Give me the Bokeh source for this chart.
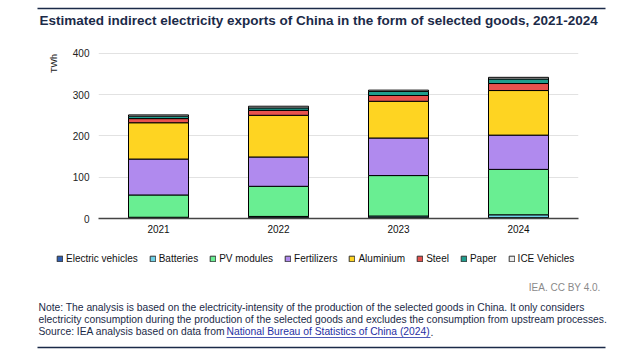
from math import pi

from bokeh.core.properties import value
from bokeh.embed import file_html
from bokeh.layouts import column, row
from bokeh.models import (ColumnDataSource, FactorRange, FixedTicker, Legend,
                          LegendItem, Range1d)
from bokeh.plotting import figure
from bokeh.resources import INLINE

# Indirect electricity exports embedded in goods, TWh
years = ["2021", "2022", "2023", "2024"]
electric_vehicles = [1, 2, 2, 2]
batteries = [2, 3, 4, 7]
pv_modules = [54, 73, 98, 110]
fertilizers = [87, 71, 91, 83]
aluminium = [88, 101, 89, 108]
steel = [10, 12, 14, 17]
paper = [6, 6, 10, 11]
ice_vehicles = [3, 4, 3, 4]

series_names = ["Electric vehicles", "Batteries", "PV modules", "Fertilizers",
                "Aluminium", "Steel", "Paper", "ICE Vehicles"]
series_values = [electric_vehicles, batteries, pv_modules, fertilizers,
                 aluminium, steel, paper, ice_vehicles]
series_colors = ["#2f5fb3", "#6fd0e6", "#69ee92", "#b08aee",
                 "#fed422", "#e8524e", "#1f9e8e", "#ececec"]
y_ticks = [0, 100, 200, 300, 400]

title_text = ("Estimated indirect electricity exports of China in the form of "
              "selected goods, 2021-2024")
note_lines = [
    "Note: The analysis is based on the electricity-intensity of the production of the "
    "selected goods in China. It only considers",
    "electricity consumption during the production of the selected goods and excludes "
    "the consumption from upstream processes.",
]
source_prefix = "Source: IEA analysis based on data from "
source_link = "National Bureau of Statistics of China (2024)"
credit = "IEA. CC BY 4.0."

FONT = "Liberation Sans"
NAVY = "#1b2a48"
LINK = "#1f2fa3"
W = 640
HEADER_H, CHART_H, FOOTER_H = 44, 196, 120
STRIP_W = 60


def canvas_figure(w, h):
    """A figure whose frame is the whole canvas, in pixel coordinates (y down)."""
    f = figure(width=w, height=h, x_range=Range1d(0, w), y_range=Range1d(h, 0),
               x_axis_type=None, y_axis_type=None, output_backend="svg",
               toolbar_location=None, title_location=None, frame_align=False,
               min_border=0, min_border_left=0, min_border_right=0,
               min_border_top=0, min_border_bottom=0)
    f.grid.visible = False
    f.outline_line_color = None
    f.background_fill_color = "white"
    f.border_fill_color = "white"
    return f


def put_text(f, x, y, text, size="10px", color=NAVY, bold=False, align="left", angle=0):
    f.text(x=[x], y=[y], text=[text], text_font=value(FONT), text_font_size=size,
           text_color=color, text_font_style="bold" if bold else "normal",
           text_align=align, text_baseline="middle", angle=angle)


# ---- header: rule and title
header = canvas_figure(W, HEADER_H)
header.segment(x0=[37], y0=[8], x1=[605], y1=[8], line_color=NAVY, line_width=1.5)
put_text(header, 39, 20, title_text, size="13.5px", bold=True)

# ---- unit label strip left of the chart
strip = canvas_figure(STRIP_W, CHART_H)
put_text(strip, 53, 19, "TWh", size="9px", color="#222222", align="center", angle=pi / 2)

# ---- chart
data = {"year": years}
keys = []
for i, vals in enumerate(series_values):
    key = f"s{i}"
    keys.append(key)
    data[key] = vals
source = ColumnDataSource(data)

chart = figure(width=W - STRIP_W, height=CHART_H,
               x_range=FactorRange(*years, range_padding=0),
               y_range=Range1d(0, 407),
               output_backend="svg", toolbar_location=None, title_location=None,
               frame_align=False,
               min_border_left=98 - STRIP_W, min_border_right=62,
               min_border_top=6, min_border_bottom=22)
chart.outline_line_color = None
chart.background_fill_color = "white"
chart.border_fill_color = "white"

renderers = chart.vbar_stack(keys, x="year", width=0.5, source=source,
                             fill_color=series_colors, line_color="black",
                             line_width=1)

chart.xgrid.grid_line_color = None
chart.ygrid.grid_line_color = "#e2e2e2"
chart.ygrid.grid_line_width = 1
chart.yaxis.ticker = FixedTicker(ticks=y_ticks)
chart.yaxis.axis_line_color = None
chart.yaxis.major_tick_line_color = None
chart.yaxis.minor_tick_line_color = None
chart.yaxis.major_tick_out = 0
chart.yaxis.major_tick_in = 0
chart.yaxis.major_label_standoff = 9
chart.yaxis.major_label_text_font = FONT
chart.yaxis.major_label_text_font_size = "10px"
chart.yaxis.major_label_text_color = "#222222"

chart.xaxis.axis_line_color = "#444444"
chart.xaxis.axis_line_width = 1.3
chart.xaxis.major_tick_line_color = None
chart.xaxis.major_tick_out = 0
chart.xaxis.major_tick_in = 0
chart.xaxis.major_label_standoff = 6
chart.xaxis.major_label_text_font = FONT
chart.xaxis.major_label_text_font_size = "10px"
chart.xaxis.major_label_text_color = "#111111"

# ---- footer: legend, credit, notes, source and closing rule
footer = canvas_figure(W, FOOTER_H)
# swatch renderers for the legend keys, parked to the right of the visible area
swatches = [footer.vbar(x=[W + 100], top=[60], bottom=[50], width=1, fill_color=c,
                        line_color="#333333", line_width=1)
            for c in series_colors]
legend = Legend(items=[LegendItem(label=name, renderers=[r])
                       for name, r in zip(series_names, swatches)],
                orientation="horizontal", location=(56, FOOTER_H - 24),
                border_line_color=None, background_fill_alpha=0,
                label_text_font=FONT, label_text_font_size="10px",
                label_text_color="#111111", glyph_width=7, glyph_height=7,
                label_standoff=3, spacing=11, padding=0, margin=0,
                label_height=12)
footer.add_layout(legend)

put_text(footer, 600, 47, credit, color="#8a8a8a", align="right")
put_text(footer, 38, 67, note_lines[0], size="10.3px")
put_text(footer, 38, 79, note_lines[1], size="10.3px")
put_text(footer, 38, 91, source_prefix, size="10.3px")
put_text(footer, 226, 91, source_link, size="10.3px", color=LINK)
put_text(footer, 430, 91, ".", size="10.3px")
footer.segment(x0=[226], y0=[97], x1=[430], y1=[97], line_color=LINK, line_width=0.8)
footer.segment(x0=[37], y0=[107], x1=[605], y1=[107], line_color=NAVY, line_width=1.5)

layout = column(header, row(strip, chart, spacing=0), footer, spacing=0)
open("out.html", "w").write(file_html(layout, INLINE))
